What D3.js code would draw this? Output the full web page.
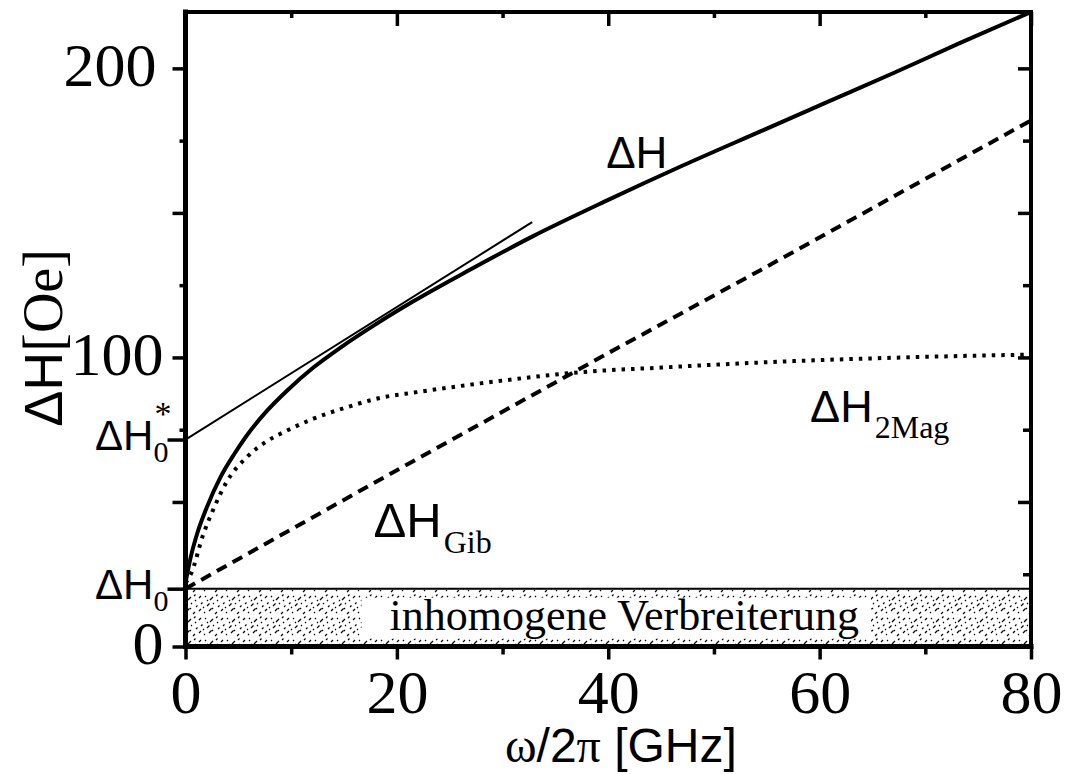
<!DOCTYPE html>
<html>
<head>
<meta charset="utf-8">
<script src="https://cdn.jsdelivr.net/npm/d3@7/dist/d3.min.js"></script>
<style>
  html, body { margin: 0; padding: 0; background: #fff; }
  svg { display: block; }
  .sans { font-family: "Liberation Sans", Arial, sans-serif; }
  .serif { font-family: "Liberation Serif", "Times New Roman", serif; }
</style>
</head>
<body>
<svg id="chart" width="1068" height="774"></svg>
<script>
// frequency ω/2π [GHz] and linewidth ΔH [Oe]
const totalFreq  = [0, 0.5, 1.1, 2, 3.3, 4.6, 5.8, 7.7, 9.6, 12.1, 14.7, 17.8, 21.6, 27, 32.8, 40, 47, 54.4, 60.7, 67, 73.3, 80];
const totalWidth = [22, 31, 39, 48, 58.5, 66.5, 73, 81.5, 88.5, 96.5, 103.5, 111, 119.5, 130.5, 141.8, 154.5, 166.3, 178.2, 188.3, 198.4, 208.8, 219.5];

const twoMagFreq  = [0, 0.5, 1.7, 2.7, 3.9, 5.8, 7.7, 9.6, 12.1, 15.3, 18.4, 21.9, 30, 37.4, 45, 56, 68, 80];
const twoMagWidth = [22, 25, 39, 48, 57, 65.5, 71, 74.7, 78.8, 82.8, 86, 88, 92, 94.9, 96.5, 98.5, 100, 101];

const gilbertFreq  = [0, 20, 40, 54.4, 80];
const gilbertWidth = [20, 61, 101.5, 130.2, 182];

const tangentFreq  = [0, 32.8];
const tangentWidth = [71.6, 146.8];

const inhomWidth = 20;       // ΔH0
const interceptWidth = 71.6; // ΔH0*

const xMajorTicks = [0, 20, 40, 60, 80];
const xMinorTicks = [10, 30, 50, 70];
const yMajorTicks = [0, 50, 100, 150, 200];
const yMinorTicks = [25, 75, 125, 175];
const yTickLabels = [0, 100, 200];

const svg = d3.select("#chart");
const x = d3.scaleLinear().domain([0, 80]).range([185.5, 1031]);
const y = d3.scaleLinear().domain([0, 219.5]).range([646.5, 12]);

// stipple pattern for the inhomogeneous band
const defs = svg.append("defs");
const dense = defs.append("pattern").attr("id", "stipple")
  .attr("patternUnits", "userSpaceOnUse").attr("width", 22).attr("height", 22);
dense.append("path")
  .attr("d", "M1,4l2,-2M7,3l1,-1M12,6l3,-3M18,2l1.5,-1.5M3,10l1.5,-1.5M9,12l2.5,-2.5M15,10l1,-1M20,13l1.5,-1.5" +
             "M1,17l2,-2M6,19l1,-1M11,17l2.5,-2.5M17,20l2,-2M14,15l1,-1M5,14l1,-1M19,7l1,-1M9,7l1,-1")
  .attr("stroke", "#000").attr("stroke-width", 1.2).attr("fill", "none");
defs.append("clipPath").attr("id", "plotClip").append("rect")
  .attr("x", x(0)).attr("y", y(219.5)).attr("width", x(80) - x(0)).attr("height", y(0) - y(219.5));

// band of inhomogeneous broadening
svg.append("rect")
  .attr("x", x(0)).attr("y", y(inhomWidth))
  .attr("width", x(80) - x(0)).attr("height", y(0) - y(inhomWidth))
  .attr("fill", "url(#stipple)");
const bandBack = svg.append("rect").attr("fill", "#fff");
const bandText = svg.append("text").attr("class", "serif")
  .attr("x", x(40) + 16).attr("y", y(inhomWidth / 2) + 12)
  .attr("text-anchor", "middle").attr("font-size", 44)
  .text("inhomogene Verbreiterung");
const bb = bandText.node().getBBox();
bandBack.attr("x", bb.x - 28).attr("width", bb.width + 40)
  .attr("y", y(inhomWidth) + 9).attr("height", y(0) - y(inhomWidth) - 17);
svg.append("line")
  .attr("x1", x(0)).attr("x2", x(80))
  .attr("y1", y(inhomWidth)).attr("y2", y(inhomWidth))
  .attr("stroke", "#000").attr("stroke-width", 2);

// curves
const smooth = d3.line().x(d => x(d[0])).y(d => y(d[1])).curve(d3.curveMonotoneX);
const straight = d3.line().x(d => x(d[0])).y(d => y(d[1]));
const plot = svg.append("g").attr("clip-path", "url(#plotClip)");
const zip = (a, b) => a.map((v, i) => [v, b[i]]);

plot.append("path").datum(zip(gilbertFreq, gilbertWidth))
  .attr("d", straight)
  .attr("fill", "none").attr("stroke", "#000").attr("stroke-width", 4)
  .attr("stroke-dasharray", "11,7");
plot.append("path").datum(zip(twoMagFreq, twoMagWidth))
  .attr("d", smooth)
  .attr("fill", "none").attr("stroke", "#000").attr("stroke-width", 4)
  .attr("stroke-dasharray", "3.5,6");
plot.append("path").datum(zip(tangentFreq, tangentWidth))
  .attr("d", straight)
  .attr("fill", "none").attr("stroke", "#000").attr("stroke-width", 2);
plot.append("path").datum(zip(totalFreq, totalWidth))
  .attr("d", smooth)
  .attr("fill", "none").attr("stroke", "#000").attr("stroke-width", 4);

// axes
function styleAxis(g) {
  g.select(".domain").remove();
  g.selectAll(".tick line").attr("stroke", "#000").attr("stroke-width", 3.5);
  g.selectAll(".tick text").attr("class", "serif").attr("fill", "#000");
}
svg.append("g").attr("transform", `translate(0,${y(0)})`)
  .call(d3.axisBottom(x).tickValues(xMajorTicks).tickSize(13).tickFormat(d3.format("d")))
  .call(styleAxis)
  .call(g => g.selectAll(".tick text").attr("font-size", 62).attr("dy", "0.71em").attr("y", 22));
svg.append("g").attr("transform", `translate(0,${y(0)})`)
  .call(d3.axisBottom(x).tickValues(xMinorTicks).tickSize(8).tickFormat(""))
  .call(styleAxis);
svg.append("g").attr("transform", `translate(0,${y(219.5)})`)
  .call(d3.axisBottom(x).tickValues(xMajorTicks).tickSize(14).tickFormat(""))
  .call(styleAxis);
svg.append("g").attr("transform", `translate(0,${y(219.5)})`)
  .call(d3.axisBottom(x).tickValues(xMinorTicks).tickSize(6).tickFormat(""))
  .call(styleAxis);

svg.append("g").attr("transform", `translate(${x(0)},0)`)
  .call(d3.axisLeft(y).tickValues(yMajorTicks).tickSize(13).tickFormat(""))
  .call(styleAxis);
svg.append("g").attr("transform", `translate(${x(0)},0)`)
  .call(d3.axisLeft(y).tickValues(yMinorTicks.filter(v => v !== 25)).tickSize(6).tickFormat(""))
  .call(styleAxis);
svg.append("g").attr("transform", `translate(${x(0)},0)`)
  .call(d3.axisLeft(y).tickValues([inhomWidth, interceptWidth]).tickSize(18).tickFormat(""))
  .call(styleAxis);
svg.append("g").attr("transform", `translate(${x(0)},0)`)
  .call(d3.axisLeft(y).tickValues(yTickLabels).tickSize(0).tickPadding(22).tickFormat(d3.format("d")))
  .call(styleAxis)
  .call(g => g.selectAll(".tick text").attr("font-size", 62).attr("dy", "0.28em"))
  .call(g => g.selectAll(".tick text").filter(d => d === 200).attr("dx", -7));

svg.append("g").attr("transform", `translate(${x(80)},0)`)
  .call(d3.axisLeft(y).tickValues(yMajorTicks).tickSize(13).tickFormat(""))
  .call(styleAxis);
svg.append("g").attr("transform", `translate(${x(80)},0)`)
  .call(d3.axisLeft(y).tickValues(yMinorTicks).tickSize(8).tickFormat(""))
  .call(styleAxis);

// frame
const frame = svg.append("g").attr("stroke", "#000").attr("stroke-linecap", "square");
frame.append("line").attr("x1", x(0)).attr("x2", x(80)).attr("y1", y(0)).attr("y2", y(0)).attr("stroke-width", 5);
frame.append("line").attr("x1", x(0)).attr("x2", x(80)).attr("y1", y(219.5)).attr("y2", y(219.5)).attr("stroke-width", 4);
frame.append("line").attr("x1", x(0)).attr("x2", x(0)).attr("y1", y(0)).attr("y2", y(219.5)).attr("stroke-width", 5);
frame.append("line").attr("x1", x(80)).attr("x2", x(80)).attr("y1", y(0)).attr("y2", y(219.5)).attr("stroke-width", 4);

// ΔH0 and ΔH0* labels on the left axis
function deltaLabel(yv, star) {
  const t = svg.append("text").attr("x", 95).attr("y", y(yv) + 10).attr("class", "sans").attr("font-size", 42);
  t.append("tspan").text("ΔH");
  t.append("tspan").attr("class", "serif").attr("font-size", 30).attr("dy", 12).text("0");
  if (star) {
    t.append("tspan").attr("class", "serif").attr("font-size", 34).attr("dx", -14).attr("dy", -37).text("*");
  }
}
deltaLabel(inhomWidth, false);
deltaLabel(interceptWidth, true);

// curve labels
function curveLabel(px, py, size, sub, subSize) {
  const t = svg.append("text").attr("x", px).attr("y", py).attr("class", "sans").attr("font-size", size);
  t.append("tspan").text("ΔH");
  if (sub) t.append("tspan").attr("class", "serif").attr("font-size", subSize).attr("dy", 16).attr("dx", 2).text(sub);
}
curveLabel(x(39.8), y(165.5), 44);
curveLabel(x(17.8), y(37.9), 49, "Gib", 32);
curveLabel(x(59.1), y(77.5), 45, "2Mag", 32);

// axis titles
const xt = svg.append("text").attr("x", x(41.2)).attr("y", 762).attr("text-anchor", "middle")
  .attr("class", "sans").attr("font-size", 48);
xt.append("tspan").attr("class", "serif").text("ω");
xt.append("tspan").text("/2");
xt.append("tspan").attr("class", "serif").text("π");
xt.append("tspan").text(" [GHz]");

const yt = svg.append("text").attr("transform", "translate(62,338) rotate(-90)")
  .attr("text-anchor", "middle").attr("class", "sans").attr("font-size", 54);
yt.append("tspan").text("ΔH");
yt.append("tspan").attr("class", "serif").attr("font-size", 56).text("[Oe]");
</script>
</body>
</html>
